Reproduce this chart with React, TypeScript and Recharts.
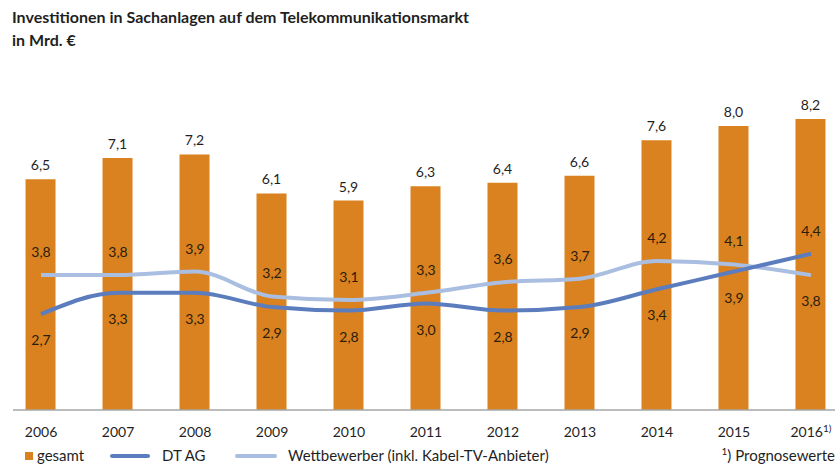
import { ComposedChart, Bar, Line, XAxis, YAxis, LabelList } from "recharts";

const years = ["2006", "2007", "2008", "2009", "2010", "2011", "2012", "2013", "2014", "2015", "2016"];
const gesamt = [6.5, 7.1, 7.2, 6.1, 5.9, 6.3, 6.4, 6.6, 7.6, 8.0, 8.2];
const dtAg = [2.7, 3.3, 3.3, 2.9, 2.8, 3.0, 2.8, 2.9, 3.4, 3.9, 4.4];
const wettbewerber = [3.8, 3.8, 3.9, 3.2, 3.1, 3.3, 3.6, 3.7, 4.2, 4.1, 3.8];

const data = years.map((year, i) => ({
  idx: i,
  year,
  gesamt: gesamt[i],
  dt: dtAg[i],
  wb: wettbewerber[i],
}));

const ORANGE = "#D9821F";
const DT_BLUE = "#5B7DBE";
const WB_BLUE = "#A9BEE0";
const TEXT = "#1f1f1f";
const FONT = "Lato, 'Open Sans', sans-serif";

const fmt = (v: number) => v.toFixed(1).replace(".", ",");

const YearTick = (props: any) => {
  const { x, payload } = props;
  const label = years[payload.value];
  const last = payload.value === years.length - 1;
  return (
    <text x={x} y={437} textAnchor="middle" fill={TEXT} fontSize={14} fontFamily={FONT}>
      {label}
      {last && (
        <tspan fontSize={10} dy={-5}>
          1)
        </tspan>
      )}
    </text>
  );
};

// labels go above the higher line and below the lower one
const lineLabel = (own: number[], other: number[]) => (props: any) => {
  const { x, y, index } = props;
  const above = own[index] >= other[index];
  return (
    <text
      x={x}
      y={above ? y - 18 : y + 31}
      textAnchor="middle"
      fill="#2b1c0c"
      fontSize={14}
      fontFamily={FONT}
    >
      {fmt(own[index])}
    </text>
  );
};

export default function App() {
  return (
    <div style={{ position: "absolute", left: 0, top: 0, width: 840, height: 465, background: "#fff", fontFamily: FONT, color: TEXT }}>
      <div style={{ position: "absolute", left: 12, top: 7, fontSize: 16, fontWeight: 700, whiteSpace: "nowrap" }}>
        Investitionen in Sachanlagen auf dem Telekommunikationsmarkt
      </div>
      <div style={{ position: "absolute", left: 12, top: 30, fontSize: 16, fontWeight: 700 }}>in Mrd. €</div>

      <ComposedChart width={840} height={465} data={data} margin={{ top: 90.5, right: 5, bottom: 25, left: 13 }}>
        <XAxis
          dataKey="idx"
          type="number"
          domain={[-0.364, 10.312]}
          allowDataOverflow
          ticks={years.map((_, i) => i)}
          tick={<YearTick />}
          tickLine={false}
          axisLine={{ stroke: "#a6a6a6", strokeWidth: 1.5 }}
          height={30}
          interval={0}
        />
        <YAxis hide domain={[0, 9]} />
        <Bar dataKey="gesamt" fill={ORANGE} barSize={30} isAnimationActive={false}>
          <LabelList
            dataKey="gesamt"
            position="top"
            offset={9}
            formatter={(v: any) => fmt(Number(v))}
            fill={TEXT}
            fontSize={14}
            fontFamily={FONT}
          />
        </Bar>
        <Line
          type="monotone"
          dataKey="wb"
          stroke={WB_BLUE}
          strokeWidth={4}
          dot={false}
          isAnimationActive={false}
        >
          <LabelList dataKey="wb" content={lineLabel(wettbewerber, dtAg)} />
        </Line>
        <Line
          type="monotone"
          dataKey="dt"
          stroke={DT_BLUE}
          strokeWidth={4}
          dot={false}
          isAnimationActive={false}
        >
          <LabelList dataKey="dt" content={lineLabel(dtAg, wettbewerber)} />
        </Line>
      </ComposedChart>

      {/* legend */}
      <div style={{ position: "absolute", left: 0, top: 446, width: 840, height: 19, fontSize: 15, lineHeight: "19px" }}>
        <span style={{ position: "absolute", left: 25, top: 6, width: 8, height: 8, background: ORANGE }} />
        <span style={{ position: "absolute", left: 37, top: 0 }}>gesamt</span>
        <span style={{ position: "absolute", left: 110, top: 8, width: 40, height: 4, borderRadius: 2, background: DT_BLUE }} />
        <span style={{ position: "absolute", left: 162, top: 0 }}>DT AG</span>
        <span style={{ position: "absolute", left: 235, top: 8, width: 42, height: 4, borderRadius: 2, background: WB_BLUE }} />
        <span style={{ position: "absolute", left: 288, top: 0, whiteSpace: "nowrap" }}>Wettbewerber (inkl. Kabel-TV-Anbieter)</span>
        <span style={{ position: "absolute", right: 5, top: 0, whiteSpace: "nowrap" }}>
          <sup style={{ fontSize: 10, lineHeight: 0 }}>1</sup>) Prognosewerte
        </span>
      </div>
    </div>
  );
}
